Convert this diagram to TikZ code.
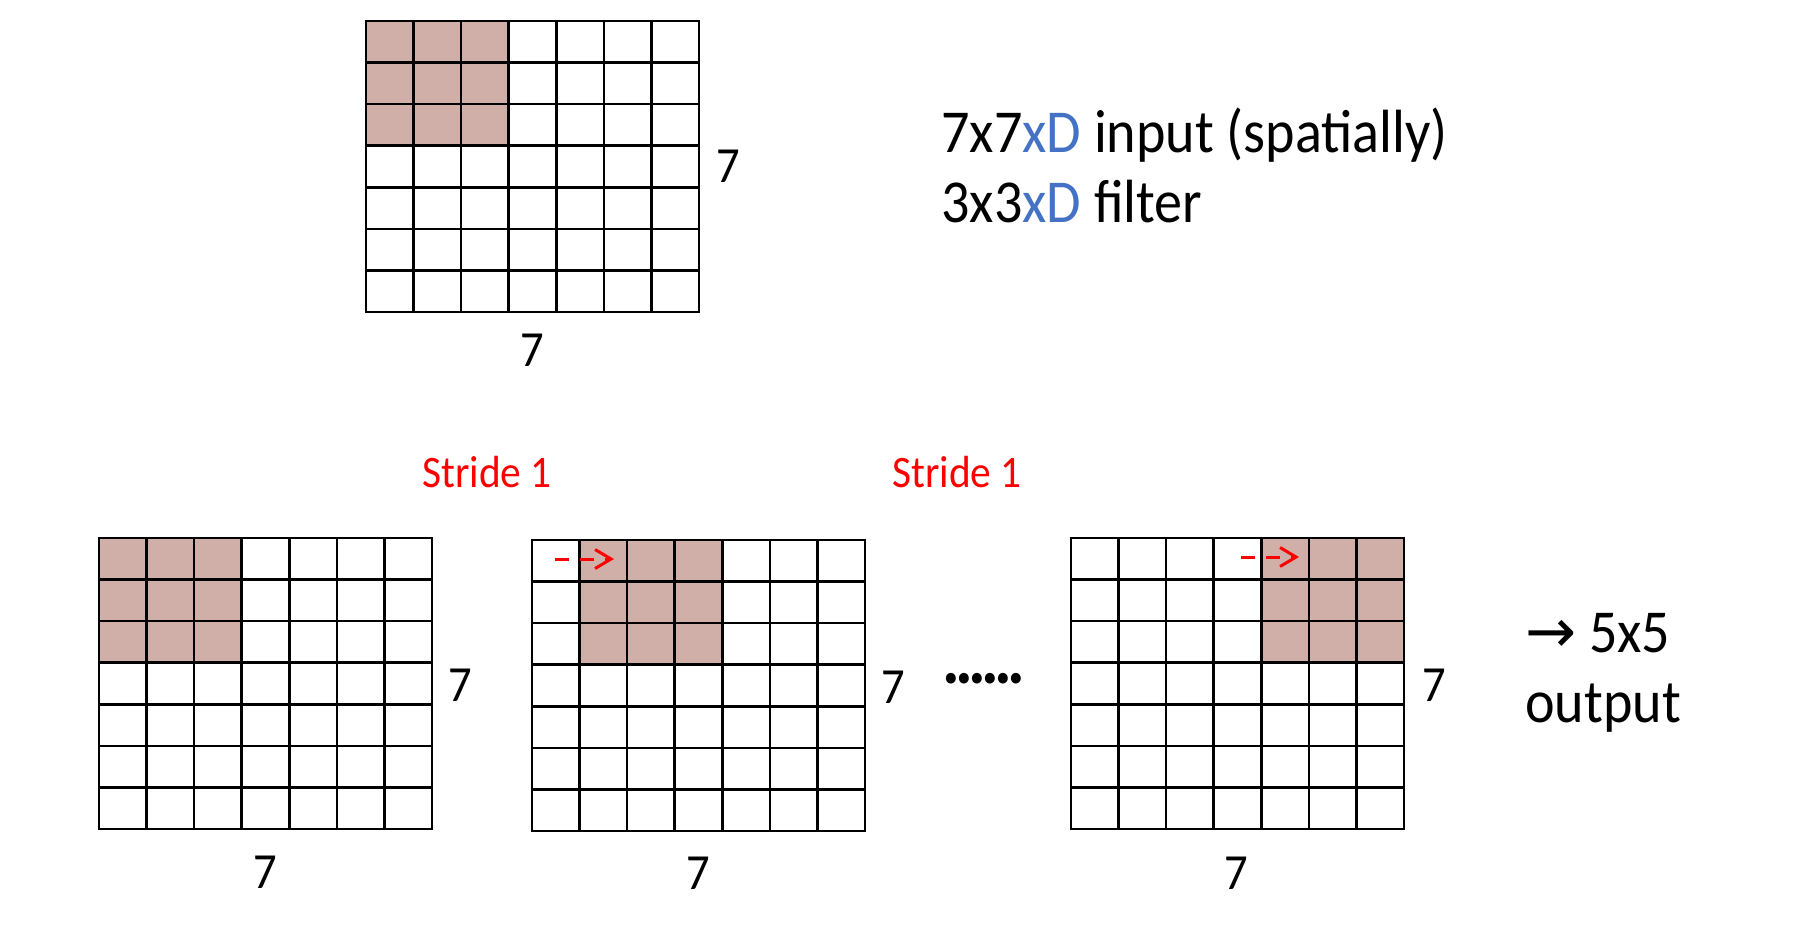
\documentclass[tikz,border=0pt]{standalone}
\usepackage{fontspec}
\setmainfont[FakeStretch=0.92]{Carlito}
\newfontfamily\symfont{DejaVu Sans}
\usetikzlibrary{arrows.meta}
\definecolor{shadecell}{RGB}{208,175,168}
\definecolor{xdblue}{RGB}{68,114,196}
\definecolor{strred}{RGB}{255,0,0}
\tikzset{
  gridline/.style={line width=1.3pt, black, line cap=rect},
  gridbox/.style={draw=none, inner sep=0pt, minimum width=166.5pt, minimum height=145.5pt},
  dimlabel/.style={inner sep=0pt, font=\fontsize{25.3}{30}\selectfont},
  bigtext/.style={inner sep=0pt, anchor=base west, font=\fontsize{30.5}{36}\selectfont},
  stridelabel/.style={inner sep=0pt, anchor=base, text=strred, font=\fontsize{22.5}{28}\selectfont},
  dasharrow/.style={strred, line width=1.5pt, dash pattern=on 7pt off 5.5pt, -{Straight Barb[length=8pt,width=9.5pt]}}
}
\newcommand\cnngrid[4]{%
  \fill[shadecell] ({#2+#4*47.571},#3) rectangle ({#2+(#4+3)*47.571},{#3+3*41.571});
  \foreach \i in {0,...,7}{
    \draw[gridline] ({#2+\i*47.571},#3) -- ({#2+\i*47.571},{#3+291});
    \draw[gridline] (#2,{#3+\i*41.571}) -- ({#2+333},{#3+\i*41.571});
  }
  \node[gridbox] (#1) at ({#2+166.5},{#3+145.5}) {};
}
\begin{document}
\begin{tikzpicture}[x=0.5pt,y=-0.5pt]
\useasboundingbox[fill=white] (0,0) rectangle (1796,949);

% top grid
\cnngrid{g0}{366}{21}{0}
\node[dimlabel] (g0r) at (728,166) {7};
\node[dimlabel] (g0b) at (532,350) {7};

\node[bigtext] (l1) at (941,152) {7x7{\color{xdblue}xD} input (spatially)};
\node[bigtext] (l2) at (941,222) {3x3{\color{xdblue}xD} filter};

% bottom grids
\cnngrid{g1}{99}{538}{0}
\node[dimlabel] (g1r) at (460,685) {7};
\node[dimlabel] (g1b) at (265,872) {7};

\cnngrid{g2}{532}{540}{1}
\node[dimlabel] (g2r) at (893,687) {7};
\node[dimlabel] (g2b) at (698,873) {7};

\cnngrid{g3}{1071}{538}{4}
\node[dimlabel] (g3r) at (1434,685) {7};
\node[dimlabel] (g3b) at (1236,873) {7};

\node[stridelabel] (s1) at (487,487) {Stride 1};
\node[stridelabel] (s2) at (957,487) {Stride 1};

\coordinate (a2s) at (555,559);
\coordinate (a2e) at (614,559);
\draw[dasharrow] (a2s) -- (a2e);
\coordinate (a3s) at (1241,557);
\coordinate (a3e) at (1299,557);
\draw[dasharrow] (a3s) -- (a3e);

\node[inner sep=0pt, anchor=base, font=\fontsize{36}{40}\selectfont\bfseries] (dots) at (984,683) {.\kern-2.4pt.\kern-2.4pt.\kern-2.4pt.\kern-2.4pt.\kern-2.4pt.};

\node[bigtext] (o1) at (1525,652) {{\symfont →} 5x5};
\node[bigtext] (o2) at (1525,722) {output};
\end{tikzpicture}
\end{document}
